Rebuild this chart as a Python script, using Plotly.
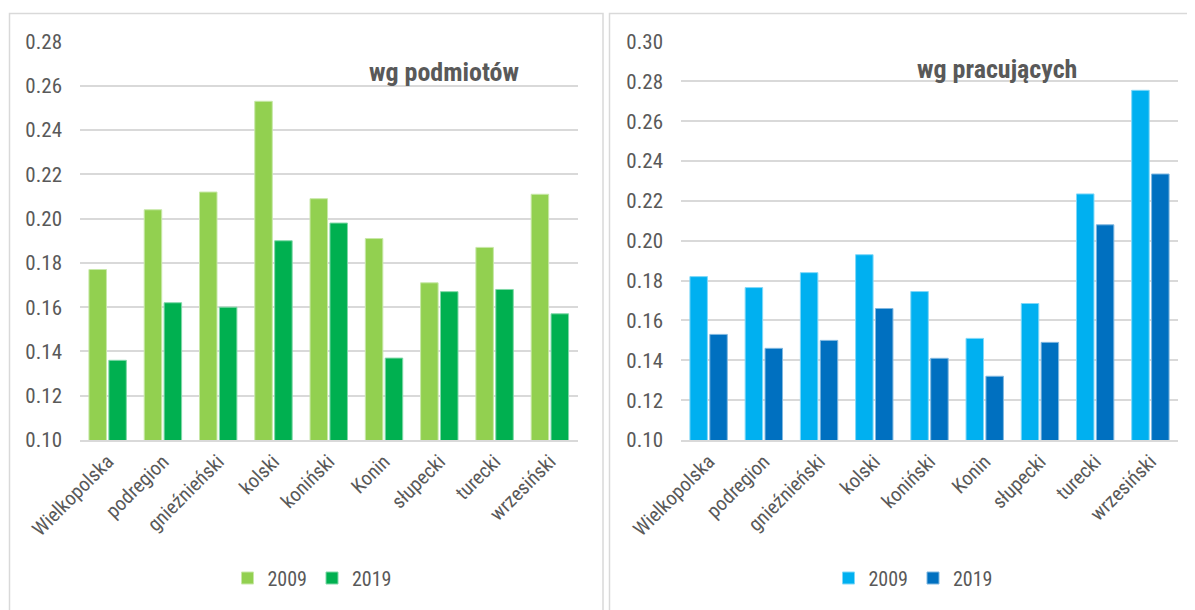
import plotly.graph_objects as go

categories = ["Wielkopolska", "podregion", "gnieźnieński", "kolski", "koniński",
              "Konin", "słupecki", "turecki", "wrzesiński"]
podmioty_2009 = [0.177, 0.204, 0.212, 0.253, 0.209, 0.191, 0.171, 0.187, 0.211]
podmioty_2019 = [0.136, 0.162, 0.160, 0.190, 0.198, 0.137, 0.167, 0.168, 0.157]
pracujacy_2009 = [0.182, 0.1765, 0.184, 0.193, 0.1745, 0.151, 0.1685, 0.2235, 0.2755]
pracujacy_2019 = [0.153, 0.146, 0.150, 0.166, 0.141, 0.132, 0.149, 0.208, 0.2335]
series_names = ["2009", "2019"]
left_title = "wg podmiotów"
right_title = "wg pracujących"

# page body has an 8px margin; figure sized to fill the rest of the window
OFF = 8
W, H = 1195 - OFF, 610 - OFF
FONT = "Liberation Sans Narrow, Arial Narrow, Roboto Condensed, Liberation Sans, sans-serif"
TXT = "#595959"
GRID = "#D9D9D9"

def px(x):
    return (x - OFF) / W

def py(y):
    return (H - (y - OFF)) / H

fig = go.Figure()
fig.add_trace(go.Bar(x=categories, y=podmioty_2009, name=series_names[0],
                     marker=dict(color="#92D050", line=dict(color="#C8E8A8", width=1)),
                     xaxis="x", yaxis="y", legend="legend"))
fig.add_trace(go.Bar(x=categories, y=podmioty_2019, name=series_names[1],
                     marker=dict(color="#00B050", line=dict(color="#80D8A8", width=1)),
                     xaxis="x", yaxis="y", legend="legend"))
fig.add_trace(go.Bar(x=categories, y=pracujacy_2009, name=series_names[0],
                     marker=dict(color="#00B0F0", line=dict(color="#80D8F8", width=1)),
                     xaxis="x2", yaxis="y2", legend="legend2"))
fig.add_trace(go.Bar(x=categories, y=pracujacy_2019, name=series_names[1],
                     marker=dict(color="#0070C0", line=dict(color="#80B8E0", width=1)),
                     xaxis="x2", yaxis="y2", legend="legend2"))

ydom = [py(440), py(41.5)]
axis_common = dict(showgrid=False, showline=True, linecolor=GRID, linewidth=2, automargin=False,
                   tickangle=-45, ticks="", tickfont=dict(family=FONT, size=20, color=TXT))
yaxis_common = dict(showgrid=True, gridcolor=GRID, gridwidth=2, zeroline=False, automargin=False,
                    showline=False, ticks="", tickformat=".2f",
                    tickfont=dict(family=FONT, size=21, color=TXT), ticklabelstandoff=17)

fig.update_layout(
    width=W, height=H,
    margin=dict(l=0, r=0, t=0, b=0, autoexpand=False),
    paper_bgcolor="white", plot_bgcolor="white",
    barmode="group", bargap=0.28, bargroupgap=0.12,
    xaxis=dict(domain=[px(80), px(577.5)], anchor="y", **axis_common),
    yaxis=dict(domain=ydom, anchor="x", range=[0.10, 0.28], dtick=0.02, **yaxis_common),
    xaxis2=dict(domain=[px(681), px(1178)], anchor="y2", **axis_common),
    yaxis2=dict(domain=ydom, anchor="x2", range=[0.10, 0.30], dtick=0.02, **yaxis_common),
    legend=dict(orientation="h", x=px(312), xanchor="center", y=py(578), yanchor="middle",
                font=dict(family=FONT, size=20, color=TXT), itemwidth=30,
                bgcolor="rgba(0,0,0,0)"),
    legend2=dict(orientation="h", x=px(913), xanchor="center", y=py(578), yanchor="middle",
                 font=dict(family=FONT, size=20, color=TXT), itemwidth=30,
                 bgcolor="rgba(0,0,0,0)"),
    showlegend=True,
    annotations=[
        dict(text="<b>" + left_title + "</b>", x=px(444), y=py(72), xref="paper", yref="paper",
             showarrow=False, xanchor="center", yanchor="middle",
             font=dict(family=FONT, size=26, color=TXT)),
        dict(text="<b>" + right_title + "</b>", x=px(997), y=py(69), xref="paper", yref="paper",
             showarrow=False, xanchor="center", yanchor="middle",
             font=dict(family=FONT, size=26, color=TXT)),
    ],
    shapes=[
        dict(type="rect", xref="paper", yref="paper", x0=px(9.5), x1=px(603), y0=py(640), y1=py(13.5),
             line=dict(color=GRID, width=1.5), layer="below"),
        dict(type="rect", xref="paper", yref="paper", x0=px(609.5), x1=px(1200), y0=py(640), y1=py(13.5),
             line=dict(color=GRID, width=1.5), layer="below"),
    ],
)

fig.write_html("out.html")
